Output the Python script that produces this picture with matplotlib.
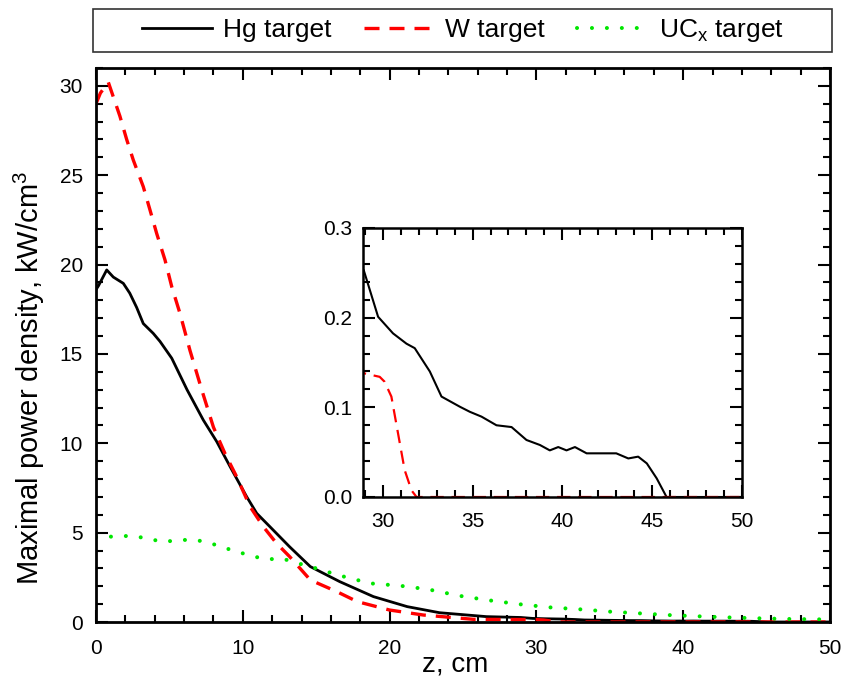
import matplotlib
matplotlib.use("Agg")
import matplotlib.pyplot as plt
from matplotlib.patches import Rectangle
from matplotlib.ticker import MultipleLocator, FormatStrFormatter

plt.rcParams['font.family'] = ['Liberation Sans', 'DejaVu Sans']
plt.rcParams['mathtext.fontset'] = 'custom'
plt.rcParams['mathtext.rm'] = 'Liberation Sans'
plt.rcParams['mathtext.it'] = 'Liberation Sans:italic'

# Maximal power density along the target axis (kW/cm^3)
z_hg = [0, 0.16, 0.73, 1.18, 1.86, 2.3, 2.77, 3.22, 3.9, 4.36, 5.16, 6.2, 7.31, 8.22,
        9.13, 10.27, 10.95, 11.85, 13.2, 14.6, 16.6, 18.9, 21.2, 23.4, 26.6, 28.94,
        29.74, 30.57, 31.32, 31.78, 32.62, 33.27, 34.29, 34.85, 35.5, 36.33, 37.17,
        38.0, 38.75, 39.3, 39.77, 40.23, 40.7, 41.35, 43.0, 43.67, 44.22, 44.7,
        45.25, 45.8, 50]
p_hg = [18.6, 18.8, 19.7, 19.3, 18.95, 18.4, 17.6, 16.7, 16.15, 15.7, 14.76, 13.0,
        11.3, 10.1, 8.7, 7.0, 6.08, 5.33, 4.2, 3.1, 2.26, 1.42, 0.86, 0.52, 0.3,
        0.253, 0.201, 0.1825, 0.171, 0.166, 0.14, 0.112, 0.1007, 0.095, 0.0896,
        0.080, 0.078, 0.0636, 0.058, 0.052, 0.0557, 0.052, 0.0557, 0.0487, 0.0487,
        0.043, 0.045, 0.0375, 0.0208, 0.0, 0.0]

z_w = [0, 0.3, 0.84, 1.63, 2.09, 2.54, 3.22, 3.68, 4.13, 4.7, 5.16, 5.72, 6.4, 7.2,
       8.0, 8.8, 9.58, 10.5, 11.4, 12.3, 13.2, 14.6, 16.4, 17.8, 20.0, 22.3, 25.7,
       28.95, 29.83, 30.1, 30.48, 30.85, 31.22, 31.6, 31.88, 50]
p_w = [29.0, 29.6, 30.2, 28.3, 27.0, 25.85, 24.36, 23.05, 21.75, 20.26, 18.76,
       17.27, 15.2, 13.0, 10.9, 9.4, 8.13, 6.45, 5.33, 4.4, 3.65, 2.35, 1.7, 1.14,
       0.67, 0.39, 0.15, 0.138, 0.134, 0.1286, 0.112, 0.071, 0.030, 0.0074, 0.0, 0.0]

z_uc = [0, 0.5, 1.5, 2.5, 3.5, 4.54, 5.5, 6.56, 7.54, 8.56, 9.58, 10.6, 11.6,
        12.65, 13.6, 14.6, 15.6, 16.6, 18.7, 20.7, 22.6, 24.8, 26.8, 28.9, 30.9,
        32.97, 35.0, 36.9, 38.98, 41.0, 42.96, 45.0, 47.05, 49.1, 50]
p_uc = [4.74, 4.74, 4.81, 4.81, 4.68, 4.48, 4.57, 4.61, 4.48, 4.2, 3.94, 3.7, 3.5,
        3.56, 3.32, 3.1, 2.85, 2.6, 2.16, 2.03, 1.83, 1.46, 1.21, 0.99, 0.82, 0.71,
        0.58, 0.49, 0.39, 0.32, 0.26, 0.21, 0.17, 0.15, 0.14]

labels = ['Hg target', 'W target', r'UC$_\mathrm{x}$ target']
green = '#00e600'

fig = plt.figure(figsize=(8.44, 6.79), dpi=100)
W, H = 844, 679

def fig_rect(x0, y0, x1, y1):
    return [x0 / W, 1 - y1 / H, (x1 - x0) / W, (y1 - y0) / H]

def style_axes(ax, lw, labelsize, xpad, ypad):
    for s in ax.spines.values():
        s.set_linewidth(lw)
    ax.tick_params(which='both', direction='in', top=True, right=True,
                   width=1.5, labelsize=labelsize)
    ax.tick_params(which='major', length=8.5)
    ax.tick_params(which='minor', length=5)
    ax.tick_params(axis='x', which='both', pad=xpad)
    ax.tick_params(axis='y', which='both', pad=ypad)

# main axes
ax = fig.add_axes(fig_rect(96, 68, 830, 622))
l1, = ax.plot(z_hg, p_hg, color='black', lw=2.0, label=labels[0])
l2, = ax.plot(z_w, p_w, color='#ff0000', lw=2.4, linestyle=(0, (4.5, 3)),
              label=labels[1])
l3, = ax.plot(z_uc, p_uc, color=green, lw=2.9, linestyle=(0, (0.01, 3.7)),
              dash_capstyle='round', label=labels[2])
ax.set_xlim(0, 50)
ax.set_ylim(0, 31)
ax.xaxis.set_major_locator(MultipleLocator(10))
ax.xaxis.set_minor_locator(MultipleLocator(2))
ax.yaxis.set_major_locator(MultipleLocator(5))
ax.yaxis.set_minor_locator(MultipleLocator(1))
style_axes(ax, 2.0, 15, 12, 9.5)
ax.set_xlabel('z, cm', fontsize=20)
ax.set_ylabel(r'Maximal power density, kW/cm$^3$', fontsize=21)
ax.xaxis.set_label_coords(0.49, -0.054, transform=ax.transAxes)
ax.yaxis.set_label_coords(-0.067, 0.44, transform=ax.transAxes)
ax.xaxis.label.set_va('top')

# inset: tail of the distribution
ins = fig.add_axes(fig_rect(363, 228, 742, 497))
ins.plot(z_hg, p_hg, color='black', lw=1.5)
ins.plot(z_w, p_w, color='#ff0000', lw=1.6, linestyle=(0, (6, 3.5)))
ins.set_xlim(28.9, 50)
ins.set_ylim(0, 0.3)
ins.xaxis.set_major_locator(MultipleLocator(5))
ins.xaxis.set_minor_locator(MultipleLocator(1))
ins.yaxis.set_major_locator(MultipleLocator(0.1))
ins.yaxis.set_minor_locator(MultipleLocator(0.02))
ins.yaxis.set_major_formatter(FormatStrFormatter('%.1f'))
style_axes(ins, 1.8, 15, 10.5, 8)

# legend box above the plot
fig.patches.append(Rectangle((93 / W, 1 - 52 / H), (832 - 93) / W, 43 / H,
                             transform=fig.transFigure, fill=False,
                             edgecolor='#333333', lw=1.2))
fig.legend(handles=[l1, l2, l3], labels=labels, loc='center', ncol=3,
           bbox_to_anchor=(462.5 / W, 1 - 30.5 / H), frameon=False,
           fontsize=19, handlelength=2.65, handletextpad=0.45, columnspacing=1.2)

fig.savefig('out.png', dpi=100)
